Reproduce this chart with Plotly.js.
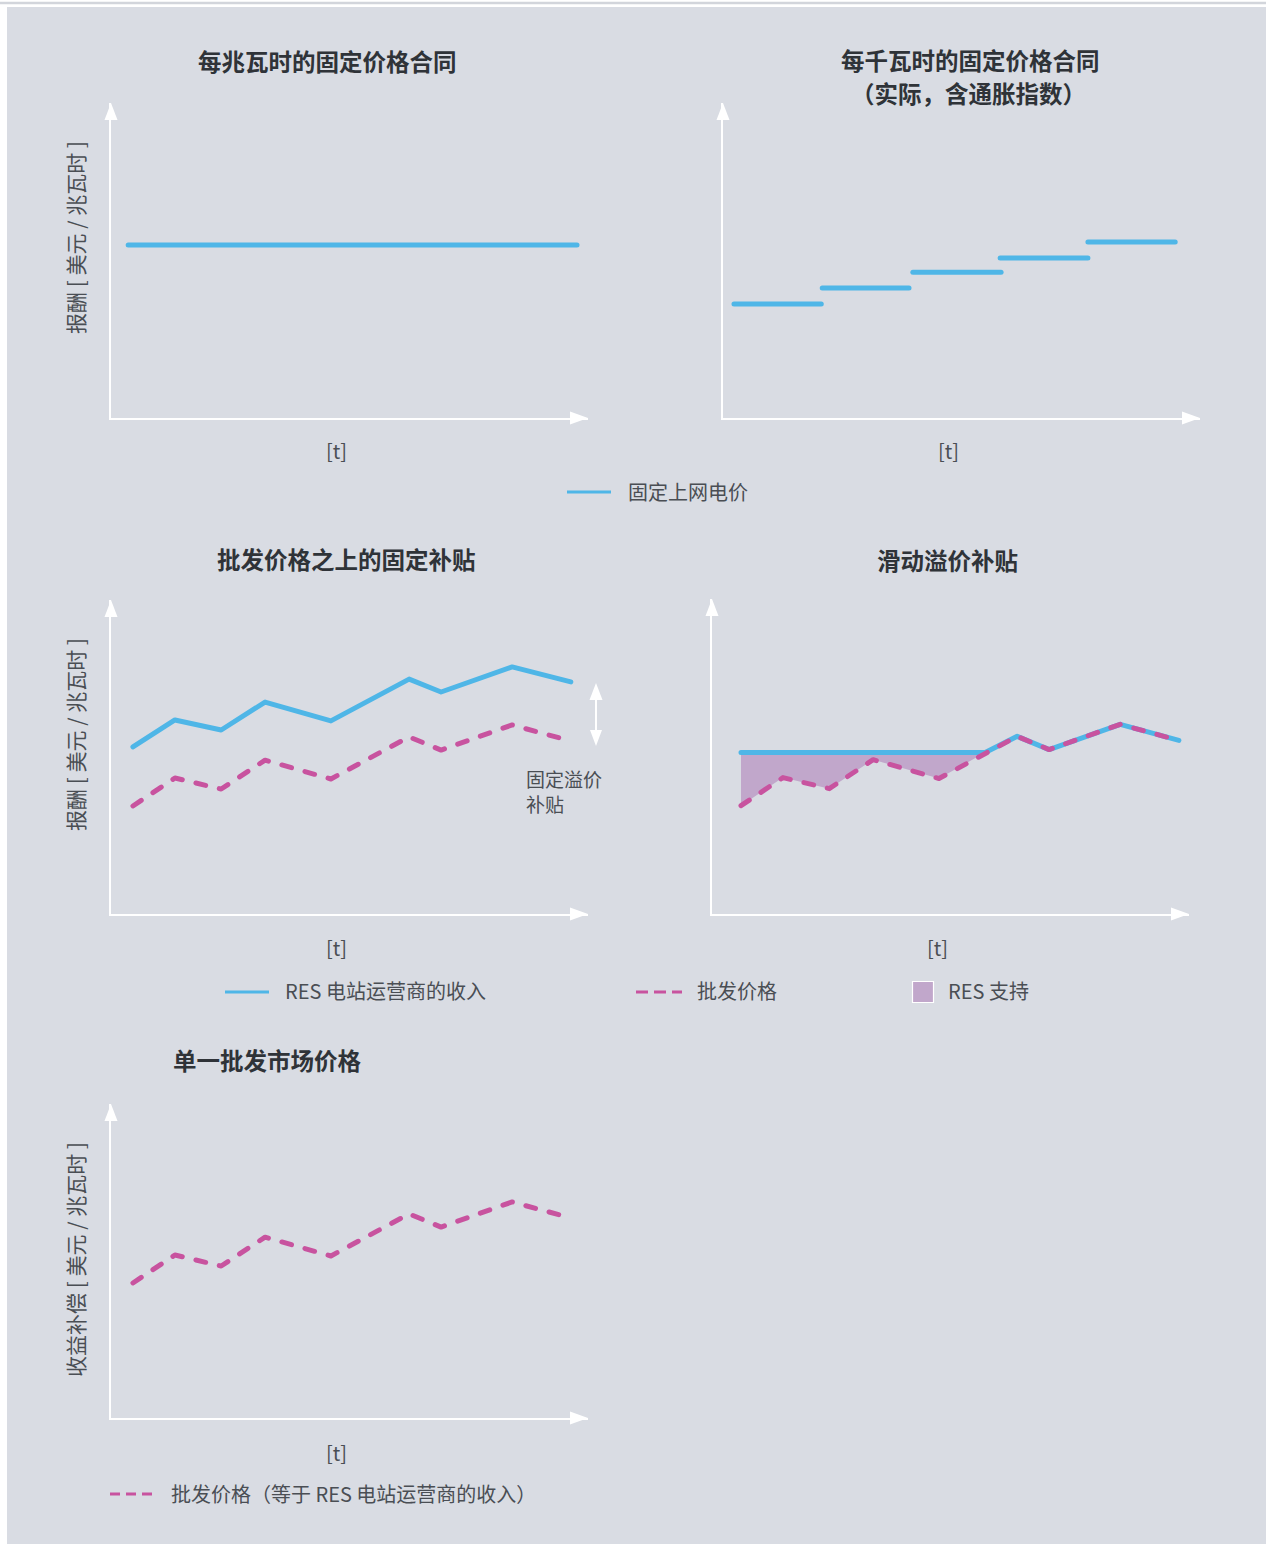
<!DOCTYPE html>
<html>
<head>
<meta charset="utf-8">
<script src="https://cdn.plot.ly/plotly-3.0.1.min.js"></script>
<style>
  html, body { margin: 0; padding: 0; background: #ffffff; }
  #chart { width: 1266px; height: 1544px; }
  #chart .js-line { stroke-linecap: round !important; stroke-linejoin: round !important; }
</style>
</head>
<body>
<div id="chart"></div>
<script>
// ---------------- data (arbitrary units 0-100) ----------------
// Panel 1: fixed feed-in tariff per MWh
const fitT = [3.6, 97.7];
const fitPrice = [54.9, 54.9];

// Panel 2: fixed price per kWh, inflation indexed (steps)
const stepStart = [2.3, 20.8, 39.8, 58.1, 76.5];
const stepEnd = [20.6, 39.0, 58.3, 76.5, 94.8];
const stepPrice = [36.2, 41.3, 46.3, 50.8, 55.9];

// Panels 3-5: time points, wholesale price, revenue with fixed premium
const t = [4.6, 13.4, 23.1, 32.3, 46.1, 62.5, 69.2, 84.1, 96.4];
const wholesale = [34.4, 43.3, 39.8, 49.0, 43.0, 56.4, 52.2, 60.2, 55.1];
const premiumRevenue = [53.2, 61.8, 58.6, 67.5, 61.5, 74.8, 70.7, 78.7, 73.9];

// Panel 4: sliding premium
const slideT = [4.6, 13.4, 23.1, 32.3, 46.1, 55.8];
const strikeLevel = [51.3, 51.3, 51.3, 51.3, 51.3, 51.3];
const supportWholesale = [34.4, 43.3, 39.8, 49.0, 43.0, 51.3];
const slideRevenueT = [4.6, 55.8, 62.5, 69.2, 84.1, 96.4];
const slideRevenue = [51.3, 51.3, 56.4, 52.2, 60.2, 55.1];

// Labels
const titles = ['每兆瓦时的固定价格合同', '每千瓦时的固定价格合同', '（实际，含通胀指数）',
                '批发价格之上的固定补贴', '滑动溢价补贴', '单一批发市场价格'];
const yLabelPay = '报酬 [ 美元 / 兆瓦时 ]';
const yLabelRev = '收益补偿 [ 美元 / 兆瓦时 ]';
const xLabel = '[t]';
const seriesNames = ['固定上网电价', 'RES 电站运营商的收入', '批发价格', 'RES 支持',
                     '批发价格（等于 RES 电站运营商的收入）'];
const premiumNote = ['固定溢价', '补贴'];

// ---------------- styling ----------------
const W = 1266, H = 1544;
const fx = x => x / W;
const fy = y => 1 - y / H;
const BLUE = '#4fb6e7';
const PINK = '#c8539f';
const FILL = '#c1a7cb';
const BG = '#d9dce3';
const FONT = '"Noto Sans CJK SC", "Noto Sans", sans-serif';
const DASH = '10px,14px';
const TEXT = '#4a4e54';

function axisX(x0, x1, range, anchor) {
  return { domain: [fx(x0), fx(x1)], range: range, showgrid: false, zeroline: false,
           showticklabels: false, ticks: '', showline: true, linecolor: '#ffffff',
           linewidth: 2, fixedrange: true, anchor: anchor };
}
function axisY(yBottom, yTop, range, anchor) {
  return { domain: [fy(yBottom), fy(yTop)], range: range, showgrid: false, zeroline: false,
           showticklabels: false, ticks: '', showline: true, linecolor: '#ffffff',
           linewidth: 2, fixedrange: true, anchor: anchor };
}

// step segments with gaps
const stepX = [], stepY = [];
for (let i = 0; i < stepPrice.length; i++) {
  stepX.push(stepStart[i], stepEnd[i], null);
  stepY.push(stepPrice[i], stepPrice[i], null);
}

const traces = [
  { x: fitT, y: fitPrice, xaxis: 'x', yaxis: 'y', mode: 'lines', name: seriesNames[0],
    line: { color: BLUE, width: 5 }, showlegend: false, hoverinfo: 'skip' },
  { x: stepX, y: stepY, xaxis: 'x2', yaxis: 'y2', mode: 'lines', name: seriesNames[0],
    showlegend: false, connectgaps: false, line: { color: BLUE, width: 5 }, hoverinfo: 'skip' },
  { x: t, y: premiumRevenue, xaxis: 'x3', yaxis: 'y3', mode: 'lines', name: seriesNames[1],
    line: { color: BLUE, width: 5 }, showlegend: false, hoverinfo: 'skip' },
  { x: t, y: wholesale, xaxis: 'x3', yaxis: 'y3', mode: 'lines', name: seriesNames[2],
    line: { color: PINK, width: 5, dash: DASH }, showlegend: false, hoverinfo: 'skip' },
  { x: slideT, y: strikeLevel, xaxis: 'x4', yaxis: 'y4', mode: 'lines', showlegend: false,
    line: { color: 'rgba(0,0,0,0)', width: 0 }, hoverinfo: 'skip' },
  { x: slideT, y: supportWholesale, xaxis: 'x4', yaxis: 'y4', mode: 'none', fill: 'tonexty',
    name: seriesNames[3], fillcolor: FILL, showlegend: false, hoverinfo: 'skip' },
  { x: slideRevenueT, y: slideRevenue, xaxis: 'x4', yaxis: 'y4', mode: 'lines', name: seriesNames[1],
    showlegend: false, line: { color: BLUE, width: 5 }, hoverinfo: 'skip' },
  { x: t, y: wholesale, xaxis: 'x4', yaxis: 'y4', mode: 'lines', name: seriesNames[2],
    showlegend: false, line: { color: PINK, width: 5, dash: DASH }, hoverinfo: 'skip' },
  { x: t, y: wholesale, xaxis: 'x5', yaxis: 'y5', mode: 'lines', name: seriesNames[4],
    line: { color: PINK, width: 5, dash: DASH }, showlegend: false, hoverinfo: 'skip' }
];

// arrowheads for the axes
function arrowRight(x, y) {
  return { type: 'path', xref: 'paper', yref: 'paper', fillcolor: '#ffffff', line: { width: 0 },
    path: `M${fx(x)},${fy(y)} L${fx(x - 18)},${fy(y - 6.5)} L${fx(x - 18)},${fy(y + 6.5)} Z` };
}
function arrowUp(x, y) {
  return { type: 'path', xref: 'paper', yref: 'paper', fillcolor: '#ffffff', line: { width: 0 },
    path: `M${fx(x)},${fy(y)} L${fx(x - 6.5)},${fy(y + 17)} L${fx(x + 6.5)},${fy(y + 17)} Z` };
}
function arrowDown(x, y) {
  return { type: 'path', xref: 'paper', yref: 'paper', fillcolor: '#ffffff', line: { width: 0 },
    path: `M${fx(x)},${fy(y)} L${fx(x - 6)},${fy(y - 16)} L${fx(x + 6)},${fy(y - 16)} Z` };
}
// legend swatches
function legendLine(x0, x1, y, color, dash) {
  return { type: 'line', xref: 'paper', yref: 'paper', x0: fx(x0), x1: fx(x1), y0: fy(y), y1: fy(y),
    line: { color: color, width: 3, dash: dash || 'solid' } };
}

const shapes = [
  { type: 'rect', xref: 'paper', yref: 'paper', x0: fx(7), x1: 1, y0: 0, y1: fy(7),
    fillcolor: BG, line: { width: 0 }, layer: 'below' },
  { type: 'line', xref: 'paper', yref: 'paper', x0: 0, x1: 1, y0: fy(3), y1: fy(3),
    line: { color: '#d2d5db', width: 2.5 }, layer: 'below' },
  arrowRight(588, 418), arrowUp(111, 103),
  arrowRight(1200, 418), arrowUp(723, 103),
  arrowRight(588, 914), arrowUp(111, 600),
  arrowRight(1189, 914), arrowUp(712, 599),
  arrowRight(588, 1418), arrowUp(111, 1104),
  // double arrow marking the fixed premium
  { type: 'line', xref: 'paper', yref: 'paper', x0: fx(596), x1: fx(596), y0: fy(695), y1: fy(733),
    line: { color: '#ffffff', width: 2 } },
  arrowUp(596, 683), arrowDown(596, 746),
  // legends
  legendLine(567, 611, 492, BLUE),
  legendLine(225, 269, 992, BLUE),
  legendLine(636, 682, 992, PINK, '12px,6px'),
  { type: 'rect', xref: 'paper', yref: 'paper', x0: fx(912.5), x1: fx(933.5), y0: fy(1002.5), y1: fy(981.5),
    fillcolor: FILL, line: { color: '#ffffff', width: 1.2 } },
  legendLine(110, 154, 1494, PINK, '10px,6px')
];

function ann(text, x, y, opts) {
  return Object.assign({ text: text, x: fx(x), y: fy(y), xref: 'paper', yref: 'paper',
    showarrow: false, xanchor: 'center', yanchor: 'middle', borderpad: 0,
    font: { family: FONT, size: 20, color: TEXT } }, opts || {});
}
const titleFont = { family: FONT, size: 23.5, color: '#2f3338', weight: 'bold' };
const yFont = { family: FONT, size: 21, color: TEXT };
const noteFont = { family: FONT, size: 19, color: TEXT };

const annotations = [
  ann('<b>' + titles[0] + '</b>', 327, 61, { font: titleFont }),
  ann('<b>' + titles[1] + '</b>', 970, 60, { font: titleFont }),
  ann('<b>' + titles[2] + '</b>', 968, 93, { font: titleFont }),
  ann('<b>' + titles[3] + '</b>', 346, 559, { font: titleFont }),
  ann('<b>' + titles[4] + '</b>', 947, 560, { font: titleFont }),
  ann('<b>' + titles[5] + '</b>', 267, 1060, { font: titleFont }),
  ann(yLabelPay, 75, 238, { textangle: -90, font: yFont }),
  ann(yLabelPay, 75, 735, { textangle: -90, font: yFont }),
  ann(yLabelRev, 75, 1260, { textangle: -90, font: yFont }),
  ann(xLabel, 336, 451),
  ann(xLabel, 948, 451),
  ann(xLabel, 336, 948),
  ann(xLabel, 937, 948),
  ann(xLabel, 336, 1452),
  ann(premiumNote[0], 525, 778, { xanchor: 'left', align: 'left', font: noteFont }),
  ann(premiumNote[1], 525, 804, { xanchor: 'left', align: 'left', font: noteFont }),
  // legend texts
  ann(seriesNames[0], 627, 491, { xanchor: 'left' }),
  ann(seriesNames[1], 284, 991, { xanchor: 'left' }),
  ann(seriesNames[2], 696, 991, { xanchor: 'left' }),
  ann(seriesNames[3], 947, 991, { xanchor: 'left' }),
  ann(seriesNames[4], 170, 1493, { xanchor: 'left' })
];

const layout = {
  width: W, height: H,
  margin: { l: 0, r: 0, t: 0, b: 0, pad: 0 },
  paper_bgcolor: '#ffffff',
  plot_bgcolor: 'rgba(0,0,0,0)',
  font: { family: FONT },
  showlegend: false,
  xaxis: axisX(111, 588, [0, 100], 'y'), yaxis: axisY(418, 103, [0, 100], 'x'),
  xaxis2: axisX(723, 1200, [0, 100], 'y2'), yaxis2: axisY(418, 103, [0, 100], 'x2'),
  xaxis3: axisX(111, 588, [0, 100], 'y3'), yaxis3: axisY(914, 600, [0, 100], 'x3'),
  xaxis4: axisX(712, 1189, [-1.48, 98.52], 'y4'), yaxis4: axisY(914, 599, [0, 100], 'x4'),
  xaxis5: axisX(111, 588, [0, 100], 'y5'), yaxis5: axisY(1418, 1104, [-8.6, 91.4], 'x5'),
  shapes: shapes,
  annotations: annotations
};

Plotly.newPlot('chart', traces, layout, { staticPlot: true, displayModeBar: false });
</script>
</body>
</html>
